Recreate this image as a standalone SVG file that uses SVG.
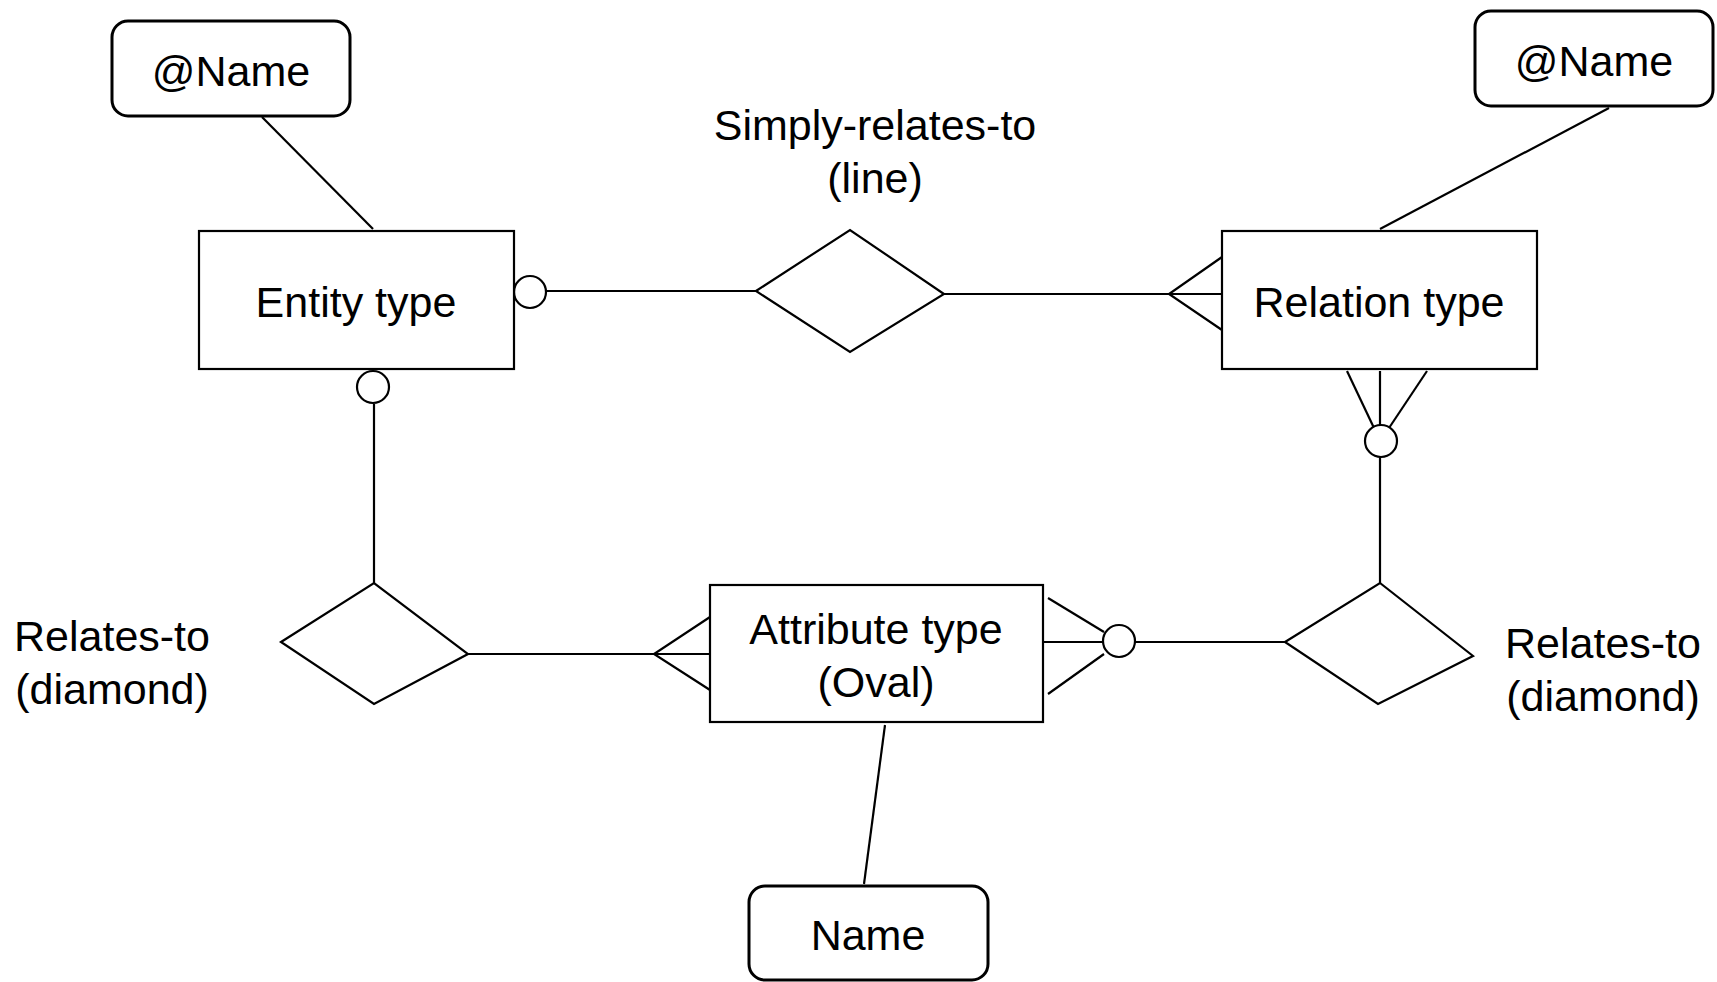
<svg xmlns="http://www.w3.org/2000/svg" width="1717" height="982" viewBox="0 0 1717 982">
<style>
.box{fill:#fff;stroke:#000;stroke-width:2.2}
.rbox{fill:#fff;stroke:#000;stroke-width:3}
.dia{fill:none;stroke:#000;stroke-width:2.2}
.ln{fill:none;stroke:#000;stroke-width:2.2}
.circ{fill:#fff;stroke:#000;stroke-width:2.2}
text{font-family:"Liberation Sans",Arial,sans-serif;font-size:43px;fill:#000;text-anchor:middle}
</style>
<rect width="1717" height="982" fill="#fff"/>
<g id="connectors">
<line class="ln" x1="262" y1="117" x2="373" y2="229"/>
<line class="ln" x1="1609" y1="108" x2="1380" y2="229"/>
<line class="ln" x1="547" y1="291" x2="756" y2="291"/>
<line class="ln" x1="944" y1="294" x2="1222" y2="294"/>
<polyline class="ln" points="1222,257 1169,294 1222,330"/>
<line class="ln" x1="1347" y1="371" x2="1374" y2="428"/>
<line class="ln" x1="1380" y1="371" x2="1380" y2="426"/>
<line class="ln" x1="1427" y1="371" x2="1389" y2="428"/>
<line class="ln" x1="1380" y1="457" x2="1380" y2="583"/>
<line class="ln" x1="374" y1="404" x2="374" y2="583"/>
<line class="ln" x1="468" y1="654" x2="710" y2="654"/>
<polyline class="ln" points="710,617 654,654 710,690"/>
<line class="ln" x1="1048" y1="598" x2="1104" y2="632"/>
<line class="ln" x1="1043" y1="642" x2="1103" y2="642"/>
<line class="ln" x1="1048" y1="694" x2="1104" y2="654"/>
<line class="ln" x1="1135" y1="642" x2="1285" y2="642"/>
<line class="ln" x1="885" y1="725" x2="864" y2="884"/>
<circle class="circ" cx="530" cy="292" r="16"/>
<circle class="circ" cx="373" cy="387" r="16"/>
<circle class="circ" cx="1381" cy="441" r="16"/>
<circle class="circ" cx="1119" cy="641" r="16"/>
</g>
<g id="name-left">
<rect class="rbox" x="112" y="21" width="238" height="95" rx="16"/>
<text x="231" y="86">@Name</text>
</g>
<g id="name-right">
<rect class="rbox" x="1475" y="11" width="238" height="95" rx="16"/>
<text x="1594" y="76">@Name</text>
</g>
<g id="entity-type">
<rect class="box" x="199" y="231" width="315" height="138"/>
<text x="356" y="317">Entity type</text>
</g>
<g id="relation-type">
<rect class="box" x="1222" y="231" width="315" height="138"/>
<text x="1379" y="317">Relation type</text>
</g>
<g id="simply-relates-to">
<polygon class="dia" points="756,291 850,230 944,294 850,352"/>
<text x="875" y="140">Simply-relates-to</text>
<text x="875" y="193">(line)</text>
</g>
<g id="relates-to-left">
<polygon class="dia" points="281,642 374,583 468,654 374,704"/>
<text x="112" y="651">Relates-to</text>
<text x="112" y="704">(diamond)</text>
</g>
<g id="relates-to-right">
<polygon class="dia" points="1285,642 1380,583 1473,656 1378,704"/>
<text x="1603" y="658">Relates-to</text>
<text x="1603" y="711">(diamond)</text>
</g>
<g id="attribute-type">
<rect class="box" x="710" y="585" width="333" height="137"/>
<text x="876" y="644">Attribute type</text>
<text x="876" y="697">(Oval)</text>
</g>
<g id="name-bottom">
<rect class="rbox" x="749" y="886" width="239" height="94" rx="16"/>
<text x="868" y="950">Name</text>
</g>
</svg>
